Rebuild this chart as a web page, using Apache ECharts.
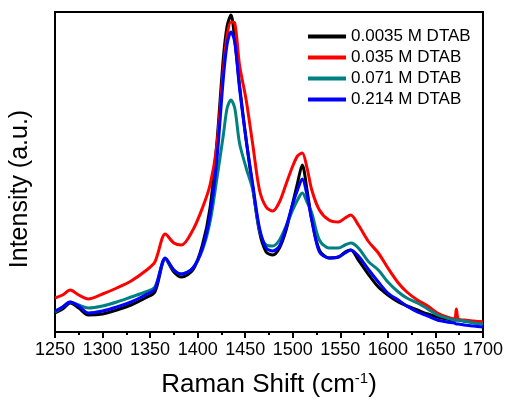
<!DOCTYPE html>
<html>
<head>
<meta charset="utf-8">
<script src="https://cdn.jsdelivr.net/npm/echarts@6/dist/echarts.min.js"></script>
<style>
  html, body { margin: 0; padding: 0; background: #fff; }
  #main { width: 506px; height: 405px; }
</style>
</head>
<body>
<div id="main"></div>
<script>
// Raman shift grid (cm-1)
var shifts = [1250,1258,1266,1275,1285,1300,1315,1330,1345,1355,1366,1375,1383,1395,1405,
  1413,1420,1427,1431,1435,1439,1444,1451,1458,1465,1472,1479,1486,1493,1500,
  1505,1510,1515,1520,1528,1538,1548,1555,1561,1569,1580,1590,1600,1611,1620,
  1631,1642,1652,1662,1670,1672,1674,1680,1690,1700];

var names = ['0.0035 M DTAB', '0.035 M DTAB', '0.071 M DTAB', '0.214 M DTAB'];
var colors = ['#000000', '#ff0000', '#008080', '#0000ff'];

// intensity (a.u.)
var dtab0035 = [19,23,29,24,17,18,22,27,34,40,73,60,55,62,87,
  124,187,274,306,317,292,247,192,144,100,80,77,84,102,129,
  149,167,142,112,82,74,75,80,82,72,57,45,37,30,26,
  22,18,15,13,12,12,12,11,10,10];
var dtab035 = [34,37,42,37,33,38,44,51,61,70,98,89,87,102,124,
  147,185,262,297,310,309,267,232,187,142,125,121,130,148,166,
  176,179,164,142,122,112,110,114,117,107,90,79,64,49,40,
  32,26,19,15,13,23,13,12,11,10];
var dtab071 = [20,25,30,27,24,26,30,35,40,45,73,62,58,64,82,
  110,152,197,224,232,224,189,164,142,102,87,86,92,106,122,
  132,139,130,119,92,84,84,87,89,84,70,62,50,40,34,
  29,23,17,14,12,12,12,11,9,8];
var dtab214 = [21,25,30,26,19,21,25,30,37,43,74,62,58,64,84,
  117,170,254,288,300,290,244,192,147,104,84,81,86,105,128,
  142,153,137,112,80,74,75,79,82,76,62,50,39,32,26,
  20,16,12,10,9,8,8,7,6,5];

var allData = [dtab0035, dtab035, dtab071, dtab214];

function pairs(vals) {
  var out = [];
  for (var i = 0; i < shifts.length; i++) {
    out.push([shifts[i], vals[i]]);
  }
  return out;
}

var series = [];
for (var k = 0; k < names.length; k++) {
  series.push({
    name: names[k],
    type: 'line',
    data: pairs(allData[k]),
    symbol: 'none',
    smooth: 0.3,
    lineStyle: { color: colors[k], width: 3 },
    itemStyle: { color: colors[k] },
    animation: false
  });
}

var myChart = echarts.init(document.getElementById('main'));
var option = {
  backgroundColor: '#fff',
  grid: {
    left: 53, right: 20, top: 12, bottom: 73,
    show: true, borderColor: '#000', borderWidth: 2
  },
  legend: {
    data: names,
    orient: 'vertical',
    left: 303,
    top: 23,
    icon: 'rect',
    itemWidth: 38,
    itemHeight: 4,
    itemGap: 4,
    textStyle: { fontFamily: 'Liberation Sans', fontSize: 17, color: '#000' }
  },
  xAxis: {
    type: 'value',
    min: 1250, max: 1700, interval: 50,
    name: '{n|Raman Shift (cm}{s|-1}{n|)}',
    nameLocation: 'middle',
    nameGap: 39,
    nameTextStyle: {
      rich: {
        n: { fontFamily: 'Liberation Sans', fontSize: 26, color: '#000' },
        s: { fontFamily: 'Liberation Sans', fontSize: 15, color: '#000', verticalAlign: 'top', padding: [0, 0, 12, 0] }
      }
    },
    axisLine: { lineStyle: { color: '#000', width: 2 } },
    axisTick: { inside: false, length: 6, lineStyle: { color: '#000', width: 2 } },
    minorTick: { show: true, splitNumber: 2, length: 3, lineStyle: { color: '#000', width: 2 } },
    axisLabel: {
      fontFamily: 'Liberation Sans', fontSize: 18, color: '#000', margin: 9,
      formatter: function (v) { return String(v); }
    },
    splitLine: { show: false }
  },
  yAxis: {
    type: 'value',
    min: 0, max: 320,
    name: 'Intensity (a.u.)',
    nameLocation: 'middle',
    nameGap: 22,
    nameRotate: 90,
    nameTextStyle: { fontFamily: 'Liberation Sans', fontSize: 25, color: '#000', padding: [0, 34, 0, 0] },
    axisLine: { show: true, lineStyle: { color: '#000', width: 2 } },
    axisTick: { show: false },
    axisLabel: { show: false },
    splitLine: { show: false }
  },
  series: series
};
myChart.setOption(option);
</script>
</body>
</html>
